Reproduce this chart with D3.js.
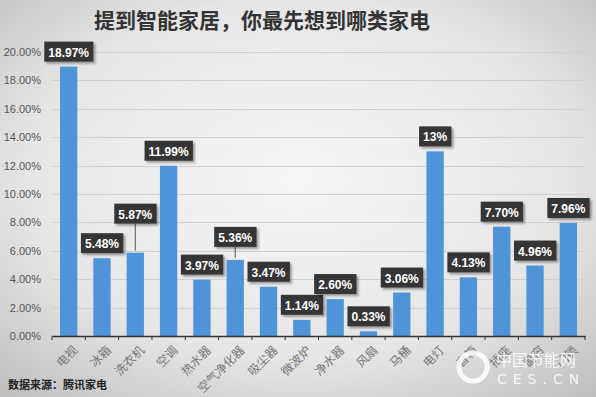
<!DOCTYPE html>
<html>
<head>
<meta charset="utf-8">
<script src="https://cdn.jsdelivr.net/npm/d3@7"></script>
<style>
body { margin: 0; }
svg { display: block; }
</style>
</head>
<body>
<script>
// chart data
var categories = ["电视", "冰箱", "洗衣机", "空调", "热水器", "空气净化器", "吸尘器", "微波炉",
                  "净水器", "风扇", "马桶", "电灯", "音箱", "插座", "窗帘", "门锁"];
var values = [18.97, 5.48, 5.87, 11.99, 3.97, 5.36, 3.47, 1.14, 2.60, 0.33, 3.06, 13, 4.13, 7.70, 4.96, 7.96];
var valueLabels = ["18.97%", "5.48%", "5.87%", "11.99%", "3.97%", "5.36%", "3.47%", "1.14%",
                   "2.60%", "0.33%", "3.06%", "13%", "4.13%", "7.70%", "4.96%", "7.96%"];
var yTicks = [0, 2, 4, 6, 8, 10, 12, 14, 16, 18, 20];

var titleText = "提到智能家居，你最先想到哪类家电";
var sourceText = "数据来源：腾讯家电";

w = 596;
h = 397;

// labels lifted higher with a leader line
var lift = {2: 24, 5: 8};

var margin = {top: 52, right: 11, bottom: 62, left: 52},
    width = w - margin.left - margin.right,
    height = h - margin.top - margin.bottom;

var svg = d3.select("body").append("svg")
    .attr("width", w)
    .attr("height", h);

var defs = svg.append("defs");
var bg = defs.append("radialGradient").attr("id", "bg")
    .attr("cx", "50%").attr("cy", "45%").attr("r", "75%");
bg.append("stop").attr("offset", "0%").attr("stop-color", "#f6f6f6");
bg.append("stop").attr("offset", "60%").attr("stop-color", "#e6e6e6");
bg.append("stop").attr("offset", "100%").attr("stop-color", "#bdbdbd");

var sh = defs.append("filter").attr("id", "shadow")
    .attr("x", "-20%").attr("y", "-20%").attr("width", "150%").attr("height", "160%");
sh.append("feDropShadow").attr("dx", 2).attr("dy", 2).attr("stdDeviation", 1.2)
    .attr("flood-color", "#000").attr("flood-opacity", 0.35);

svg.append("rect").attr("width", w).attr("height", h).attr("fill", "url(#bg)");

// title
svg.append("text")
    .attr("x", 262).attr("y", 28)
    .attr("text-anchor", "middle")
    .style("font-family", "'Noto Sans CJK SC', sans-serif")
    .style("font-size", "21px")
    .style("font-weight", "bold")
    .attr("fill", "#333")
    .text(titleText);

var g = svg.append("g")
    .attr("transform", "translate(" + margin.left + "," + margin.top + ")");

var x = d3.scaleBand()
    .domain(categories)
    .range([0, width])
    .paddingInner(0.48)
    .paddingOuter(0.24);

var y = d3.scaleLinear()
    .domain([0, 20])
    .range([height + 1, 0]);

// gridlines
g.append("g").selectAll("line")
    .data(yTicks.slice(1))
    .enter().append("line")
    .attr("x1", 0).attr("x2", width)
    .attr("y1", function(d) { return Math.round(y(d)) + 0.5; })
    .attr("y2", function(d) { return Math.round(y(d)) + 0.5; })
    .attr("stroke", "#d0d0d0");

// y labels
g.append("g").selectAll("text")
    .data(yTicks)
    .enter().append("text")
    .attr("x", -11)
    .attr("y", function(d) { return y(d) + 4; })
    .attr("text-anchor", "end")
    .style("font-family", "'Liberation Sans', Arial, sans-serif")
    .style("font-size", "11px")
    .attr("fill", "#555")
    .text(function(d) { return d.toFixed(2) + "%"; });

// bars
g.append("g").selectAll("rect")
    .data(values)
    .enter().append("rect")
    .attr("x", function(d, i) { return x(categories[i]); })
    .attr("width", x.bandwidth())
    .attr("y", function(d) { return y(d); })
    .attr("height", function(d) { return y(0) - y(d); })
    .attr("fill", "#4f94d9");

// x axis
var xAxis = g.append("g")
    .attr("transform", "translate(0," + (height + 1) + ")")
    .call(d3.axisBottom(x).tickSize(0).tickFormat(""));
xAxis.select(".domain").attr("stroke", "#333").attr("stroke-width", 1.5);
xAxis.append("g").selectAll("line")
    .data(d3.range(categories.length + 1))
    .enter().append("line")
    .attr("x1", function(i) { return i * x.step(); })
    .attr("x2", function(i) { return i * x.step(); })
    .attr("y1", 0).attr("y2", 4)
    .attr("stroke", "#333");

g.append("g").selectAll("text")
    .data(categories)
    .enter().append("text")
    .attr("transform", function(d) {
      return "translate(" + (x(d) + x.bandwidth() / 2 + 4) + "," + (height + 10) + ") rotate(-45)";
    })
    .attr("text-anchor", "end")
    .attr("dy", "0.7em")
    .style("font-family", "'Noto Sans CJK SC', sans-serif")
    .style("font-size", "12px")
    .attr("fill", "#777")
    .text(function(d) { return d; });

// value labels
var lab = g.append("g").selectAll("g")
    .data(values)
    .enter().append("g")
    .attr("transform", function(d, i) {
      var cx = x(categories[i]) + x.bandwidth() / 2;
      var by = y(d) - 5 - (lift[i] || 0);
      return "translate(" + cx + "," + by + ")";
    });

lab.filter(function(d, i) { return lift[i]; })
    .append("line")
    .attr("x1", 0).attr("x2", 0)
    .attr("y1", 0)
    .attr("y2", function(d, i) { return 5 + lift[values.indexOf(d)] - 2; })
    .attr("stroke", "#555");

lab.each(function(d, i) {
  var s = d3.select(this);
  var t = s.append("text")
      .attr("x", 0).attr("y", -5)
      .attr("text-anchor", "middle")
      .style("font-family", "'Liberation Sans', Arial, sans-serif")
      .style("font-size", "12px")
      .style("font-weight", "bold")
      .attr("fill", "#fff")
      .text(valueLabels[i]);
  var bb = t.node().getBBox();
  s.insert("rect", "text")
      .attr("x", bb.x - 4).attr("y", -20)
      .attr("width", bb.width + 8).attr("height", 20)
      .attr("fill", "#363636")
      .attr("filter", "url(#shadow)");
});

// source note
svg.append("text")
    .attr("x", 8).attr("y", 389)
    .style("font-family", "'Noto Sans CJK SC', sans-serif")
    .style("font-size", "11px")
    .style("font-weight", "bold")
    .attr("fill", "#222")
    .text(sourceText);

// watermark
var wm = svg.append("g").attr("opacity", 0.85);
wm.append("circle").attr("cx", 473).attr("cy", 367).attr("r", 14)
    .attr("fill", "none").attr("stroke", "#fff").attr("stroke-width", 5);
wm.append("text").attr("x", 496).attr("y", 366)
    .style("font-family", "'Noto Sans CJK SC', sans-serif")
    .style("font-size", "16px")
    .attr("fill", "#fff")
    .text("中国节能网");
wm.append("text").attr("x", 497).attr("y", 384)
    .style("font-family", "'DejaVu Sans', sans-serif")
    .style("font-size", "14px")
    .style("letter-spacing", "6px")
    .attr("fill", "#fff")
    .text("CES.CN");
</script>
</body>
</html>
